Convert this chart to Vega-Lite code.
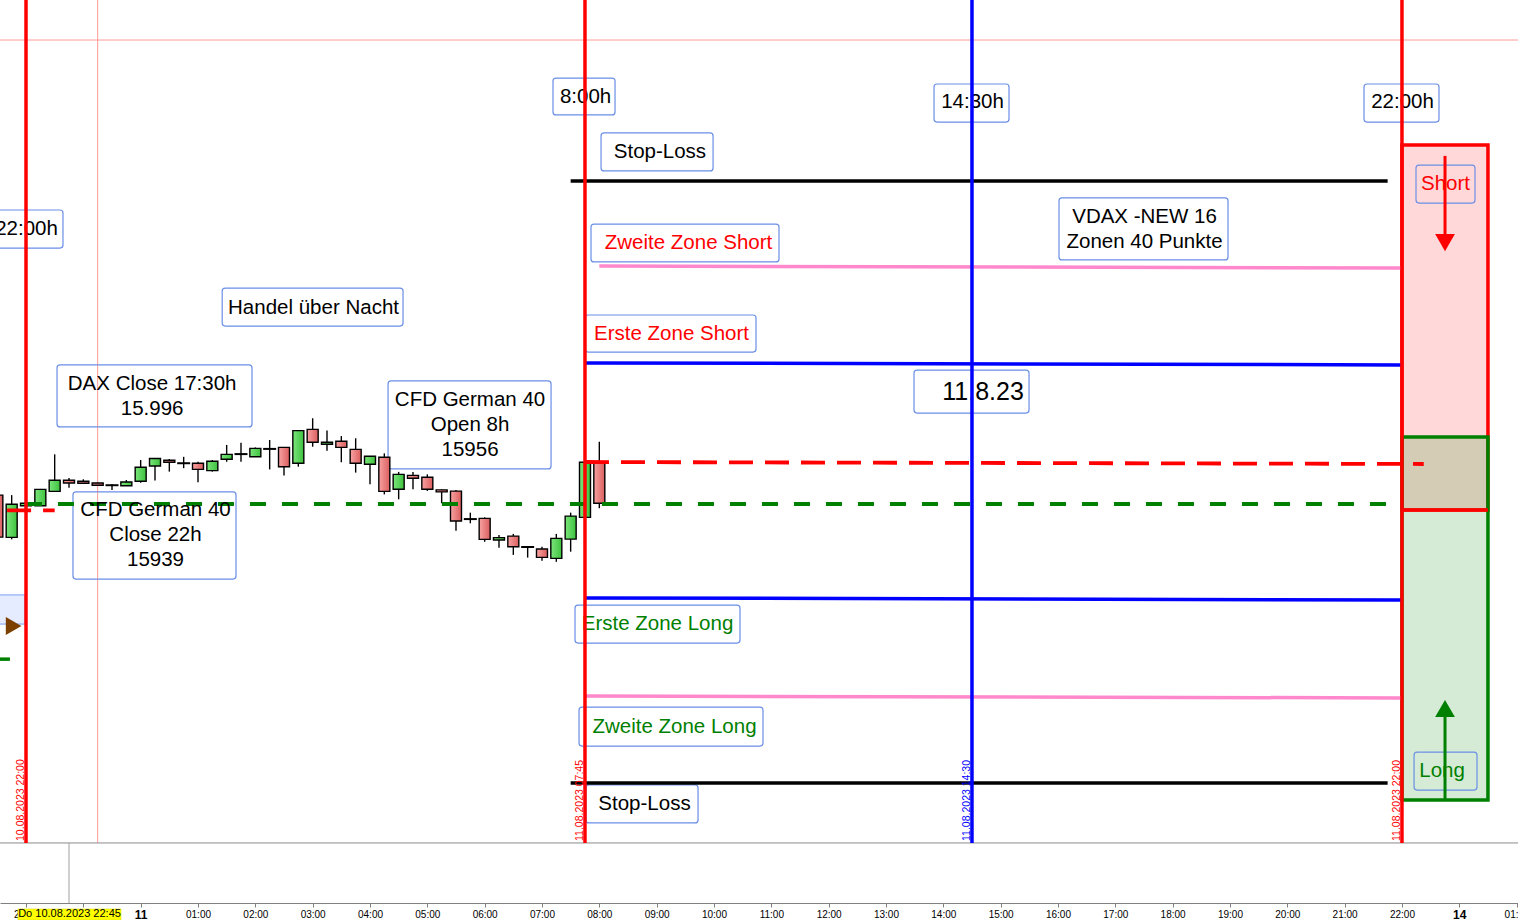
{
  "$schema": "https://vega.github.io/schema/vega-lite/v6.json",
  "width": 1518,
  "height": 903,
  "autosize": {"type": "none"},
  "padding": {"left": 0, "top": 0, "right": 0, "bottom": 17},
  "background": "#ffffff",
  "config": {
    "view": {"stroke": null},
    "font": "Liberation Sans",
    "text": {"font": "Liberation Sans"},
    "axisX": {"title": null, "grid": false, "labelFont": "Liberation Sans", "labelFontSize": 10, "labelColor": "#000000", "tickSize": 4, "tickColor": "#808080", "domainColor": "#808080", "labelPadding": 2}
  },
  "datasets": {
    "kerzen": [
      {"t": -2.5, "o": 15942.6, "h": 15943.5, "l": 15925.2, "c": 15925.6},
      {"t": -2.25, "o": 15925.5, "h": 15942.6, "l": 15924.7, "c": 15938.9},
      {"t": -2.0, "o": 15938.3, "h": 15939.4, "l": 15938.2, "c": 15939.3},
      {"t": -1.75, "o": 15938.3, "h": 15945.1, "l": 15938.2, "c": 15944.9},
      {"t": -1.5, "o": 15944.1, "h": 15959.1, "l": 15944.1, "c": 15948.6},
      {"t": -1.25, "o": 15948.6, "h": 15949.5, "l": 15945.6, "c": 15947.5},
      {"t": -1.0, "o": 15948.2, "h": 15949.0, "l": 15947.1, "c": 15947.4},
      {"t": -0.75, "o": 15947.5, "h": 15947.7, "l": 15946.3, "c": 15946.6},
      {"t": -0.5, "o": 15946.6, "h": 15947.1, "l": 15944.7, "c": 15946.6},
      {"t": -0.25, "o": 15946.4, "h": 15948.7, "l": 15946.3, "c": 15947.9},
      {"t": 0.0, "o": 15948.2, "h": 15956.8, "l": 15947.6, "c": 15953.9},
      {"t": 0.25, "o": 15954.4, "h": 15957.6, "l": 15948.5, "c": 15957.4},
      {"t": 0.5, "o": 15956.7, "h": 15957.2, "l": 15952.1, "c": 15955.9},
      {"t": 0.75, "o": 15955.5, "h": 15958.1, "l": 15953.5, "c": 15955.5},
      {"t": 1.0, "o": 15955.5, "h": 15956.1, "l": 15947.8, "c": 15953.0},
      {"t": 1.25, "o": 15952.5, "h": 15956.8, "l": 15952.1, "c": 15956.3},
      {"t": 1.5, "o": 15957.1, "h": 15962.9, "l": 15956.1, "c": 15959.1},
      {"t": 1.75, "o": 15959.2, "h": 15963.8, "l": 15956.1, "c": 15959.2},
      {"t": 2.0, "o": 15958.1, "h": 15961.9, "l": 15958.1, "c": 15961.5},
      {"t": 2.25, "o": 15961.3, "h": 15964.9, "l": 15953.0, "c": 15961.3},
      {"t": 2.5, "o": 15961.9, "h": 15962.1, "l": 15950.5, "c": 15954.1},
      {"t": 2.75, "o": 15955.5, "h": 15968.8, "l": 15954.1, "c": 15968.7},
      {"t": 3.0, "o": 15969.2, "h": 15973.7, "l": 15962.2, "c": 15964.0},
      {"t": 3.25, "o": 15963.2, "h": 15968.7, "l": 15960.6, "c": 15964.0},
      {"t": 3.5, "o": 15964.4, "h": 15966.5, "l": 15955.9, "c": 15961.9},
      {"t": 3.75, "o": 15961.1, "h": 15965.6, "l": 15951.7, "c": 15955.5},
      {"t": 4.0, "o": 15955.1, "h": 15958.4, "l": 15947.0, "c": 15958.3},
      {"t": 4.25, "o": 15957.9, "h": 15959.5, "l": 15942.9, "c": 15944.1},
      {"t": 4.5, "o": 15945.0, "h": 15952.0, "l": 15940.9, "c": 15951.0},
      {"t": 4.75, "o": 15950.6, "h": 15952.0, "l": 15945.0, "c": 15949.4},
      {"t": 5.0, "o": 15949.8, "h": 15951.0, "l": 15944.3, "c": 15945.0},
      {"t": 5.25, "o": 15944.7, "h": 15944.9, "l": 15939.3, "c": 15943.9},
      {"t": 5.5, "o": 15944.2, "h": 15944.7, "l": 15928.2, "c": 15932.1},
      {"t": 5.75, "o": 15932.9, "h": 15935.5, "l": 15931.2, "c": 15932.9},
      {"t": 6.0, "o": 15933.2, "h": 15933.6, "l": 15923.7, "c": 15924.7},
      {"t": 6.25, "o": 15924.4, "h": 15926.5, "l": 15921.3, "c": 15925.4},
      {"t": 6.5, "o": 15926.0, "h": 15926.9, "l": 15918.4, "c": 15921.7},
      {"t": 6.75, "o": 15921.6, "h": 15922.0, "l": 15917.3, "c": 15921.6},
      {"t": 7.0, "o": 15920.8, "h": 15921.7, "l": 15916.0, "c": 15917.4},
      {"t": 7.25, "o": 15917.0, "h": 15926.9, "l": 15915.6, "c": 15925.1},
      {"t": 7.5, "o": 15924.8, "h": 15935.5, "l": 15919.7, "c": 15934.1},
      {"t": 7.75, "o": 15933.6, "h": 15956.0, "l": 15933.5, "c": 15955.9},
      {"t": 8.0, "o": 15955.9, "h": 15964.2, "l": 15937.3, "c": 15939.3}
    ],
    "linien": [
      {"name": "Stop-Loss oben", "kat": "stop", "t": 7.5, "t2": 21.75, "p": 16069.7, "p2": 16069.7},
      {"name": "Zweite Zone Short", "kat": "zone2", "t": 8.0, "t2": 22.0, "p": 16035.3, "p2": 16034.5},
      {"name": "Erste Zone Short", "kat": "zone1", "t": 7.75, "t2": 22.0, "p": 15996.1, "p2": 15995.3},
      {"name": "Erste Zone Long", "kat": "zone1", "t": 7.75, "t2": 22.0, "p": 15901.0, "p2": 15900.1},
      {"name": "Zweite Zone Long", "kat": "zone2", "t": 7.75, "t2": 22.0, "p": 15861.3, "p2": 15860.5},
      {"name": "Stop-Loss unten", "kat": "stop", "t": 7.5, "t2": 21.75, "p": 15826.1, "p2": 15826.1},
      {"name": "Marke", "kat": "long", "t": -2.46, "t2": -2.28, "p": 15876.2, "p2": 15876.2}
    ],
    "gestrichelt": [
      {"name": "Open 8h", "kat": "short", "t": 7.75, "t2": 22.38, "p": 15956.0, "p2": 15955.2},
      {"name": "Close 22h", "kat": "long", "t": -2.0, "t2": 21.75, "p": 15939.0, "p2": 15939.0},
      {"name": "Open Vortag", "kat": "short", "t": -2.33, "t2": -1.5, "p": 15936.4, "p2": 15936.4}
    ],
    "zeiten": [
      {"t": -2.0, "kat": "eu", "label": "10.08.2023 22:00", "p": 16143.0, "p2": 15801.8},
      {"t": 7.75, "kat": "eu", "label": "11.08.2023 07:45", "p": 16143.0, "p2": 15801.8},
      {"t": 14.5, "kat": "us", "label": "11.08.2023 14:30", "p": 16143.0, "p2": 15801.8},
      {"t": 22.0, "kat": "eu", "label": "11.08.2023 22:00", "p": 16143.0, "p2": 15801.8}
    ],
    "bereiche": [
      {"name": "Short", "t": 22.0, "t2": 23.5, "p": 16084.3, "p2": 15936.6},
      {"name": "Long", "t": 22.0, "t2": 23.5, "p": 15966.1, "p2": 15819.2}
    ],
    "pfeile": [
      {"kat": "short", "t": 22.751, "p": 16079.9, "p2": 16044.8},
      {"kat": "long", "t": 22.751, "p": 15819.2, "p2": 15856.2}
    ],
    "notizrahmen": [
      {"t": 7.192, "t2": 8.274, "p": 16111.4, "p2": 16096.5},
      {"t": 13.838, "t2": 15.146, "p": 16109.0, "p2": 16093.6},
      {"t": 21.338, "t2": 22.646, "p": 16109.0, "p2": 16093.6},
      {"t": -2.663, "t2": -1.355, "p": 16058.0, "p2": 16042.6},
      {"t": 8.03, "t2": 9.984, "p": 16089.2, "p2": 16073.8},
      {"t": 7.855, "t2": 11.134, "p": 16052.3, "p2": 16037.0},
      {"t": 7.751, "t2": 10.733, "p": 16015.5, "p2": 16000.5},
      {"t": 16.018, "t2": 18.966, "p": 16062.9, "p2": 16037.8},
      {"t": 13.489, "t2": 15.495, "p": 15993.2, "p2": 15975.8},
      {"t": 1.422, "t2": 4.576, "p": 16026.4, "p2": 16011.0},
      {"t": -1.459, "t2": 1.942, "p": 15995.3, "p2": 15970.2},
      {"t": 4.315, "t2": 7.158, "p": 15988.8, "p2": 15953.2},
      {"t": -1.181, "t2": 1.663, "p": 15943.9, "p2": 15908.6},
      {"t": 7.576, "t2": 10.454, "p": 15898.1, "p2": 15882.7},
      {"t": 7.646, "t2": 10.855, "p": 15856.8, "p2": 15841.0},
      {"t": 7.768, "t2": 9.722, "p": 15825.3, "p2": 15809.9},
      {"t": 22.245, "t2": 23.274, "p": 16076.2, "p2": 16060.8},
      {"t": 22.211, "t2": 23.309, "p": 15838.6, "p2": 15823.2}
    ],
    "notiztext": [
      {"label": "8:00h", "kat": "neutral", "t": 7.76, "p": 16103.7},
      {"label": "14:30h", "kat": "neutral", "t": 14.51, "p": 16101.8},
      {"label": "22:00h", "kat": "neutral", "t": 22.01, "p": 16101.8},
      {"label": "22:00h", "kat": "neutral", "t": -1.991, "p": 16050.3},
      {"label": "Stop-Loss", "kat": "neutral", "t": 9.058, "p": 16081.5},
      {"label": "Zweite Zone Short", "kat": "short", "t": 9.556, "p": 16044.6},
      {"label": "Erste Zone Short", "kat": "short", "t": 9.259, "p": 16007.8},
      {"label": "VDAX -NEW 16\nZonen 40 Punkte", "kat": "neutral", "t": 17.51, "p": 16055.2},
      {"label": "11.8.23", "kat": "neutral", "t": 14.693, "p": 15984.5},
      {"label": "Handel über Nacht", "kat": "neutral", "t": 3.015, "p": 16018.3},
      {"label": "DAX Close 17:30h\n15.996", "kat": "neutral", "t": 0.2, "p": 15987.6},
      {"label": "CFD German 40\nOpen 8h\n15956", "kat": "neutral", "t": 5.745, "p": 15981.1},
      {"label": "CFD German 40\nClose 22h\n15939", "kat": "neutral", "t": 0.259, "p": 15936.6},
      {"label": "Erste Zone Long", "kat": "long", "t": 9.015, "p": 15890.4},
      {"label": "Zweite Zone Long", "kat": "long", "t": 9.311, "p": 15848.7},
      {"label": "Stop-Loss", "kat": "neutral", "t": 8.788, "p": 15817.6},
      {"label": "Short", "kat": "short", "t": 22.76, "p": 16068.5},
      {"label": "Long", "kat": "long", "t": 22.699, "p": 15830.9}
    ]
  },
  "encoding": {
    "x": {"field": "t", "type": "quantitative",
      "scale": {"domain": [-2.4536, 24.024], "nice": false, "zero": false, "padding": 0},
      "axis": {
        "values": [-2, -1, 0, 1, 2, 3, 4, 5, 6, 7, 8, 9, 10, 11, 12, 13, 14, 15, 16, 17, 18, 19, 20, 21, 22, 23, 24],
        "labelExpr": "datum.value == 0 ? '11' : datum.value == 23 ? '14' : datum.value < 0 ? (datum.value + 24) + ':00' : datum.value > 23 ? '0' + (datum.value - 23) + ':00' : datum.value < 10 ? '0' + datum.value + ':00' : datum.value + ':00'",
        "labelFontWeight": {"condition": {"test": "datum.value == 0 || datum.value == 23", "value": "bold"}, "value": "normal"},
        "labelFontSize": {"condition": {"test": "datum.value == 0 || datum.value == 23", "value": 12}, "value": 10},
        "labelOverlap": false, "labelFlush": false
      }},
    "y": {"field": "p", "type": "quantitative",
      "scale": {"domain": [15777.5, 16143.0], "nice": false, "zero": false, "padding": 0},
      "axis": null}
  },
  "layer": [
    {"data": {"name": "bereiche"}, "transform": [{"filter": "datum.name == 'Short'"}],
     "mark": {"type": "rect", "fill": "#ffd9d9", "stroke": "#ff0000", "strokeWidth": 3.5},
     "encoding": {"x2": {"field": "t2"}, "y2": {"field": "p2"}}},
    {"data": {"name": "bereiche"}, "transform": [{"filter": "datum.name == 'Long'"}],
     "mark": {"type": "rect", "fill": "#2d9b2d", "fillOpacity": 0.2, "stroke": "#008000", "strokeOpacity": 1, "strokeWidth": 3.5},
     "encoding": {"x2": {"field": "t2"}, "y2": {"field": "p2"}}},
    {"data": {"name": "bereiche"}, "transform": [{"filter": "datum.name == 'Short'"}],
     "mark": {"type": "rule", "color": "#ff0000", "strokeWidth": 3.5},
     "encoding": {"x2": {"field": "t2"}, "y": {"field": "p2", "type": "quantitative", "axis": null}}},
    {"data": {"values": [{"t": -2.6, "t2": -2.017, "p": 15902.2, "p2": 15890.4}]},
     "mark": {"type": "rect", "fill": "#e6ecff", "stroke": "#7b9ef0", "strokeWidth": 1},
     "encoding": {"x2": {"field": "t2"}, "y2": {"field": "p2"}}},
    {"data": {"values": [{"t": -2.216, "p": 15889.6}]},
     "mark": {"type": "point", "shape": "triangle-right", "size": 324, "filled": true, "color": "#7b3f00", "opacity": 1},
     "encoding": {}},
    {"data": {"values": [{"name": "Fadenkreuz", "t": -2.4536, "t2": 24.024, "p": 16126.8}]},
     "mark": {"type": "rule", "color": "#ff9999", "strokeWidth": 1},
     "encoding": {"x2": {"field": "t2"}}},
    {"data": {"values": [{"name": "Fadenkreuz", "t": -0.75, "p": 16143.0, "p2": 15801.8}]},
     "mark": {"type": "rule", "color": "#ff9999", "strokeWidth": 1},
     "encoding": {"y2": {"field": "p2"}}},
    {"data": {"values": [{"name": "Trenner", "t": -2.4536, "t2": 24.024, "p": 15801.8}]},
     "mark": {"type": "rule", "color": "#8c8c8c", "strokeWidth": 1},
     "encoding": {"x2": {"field": "t2"}}},
    {"data": {"values": [{"name": "Cursor", "t": -1.25, "p": 15801.8, "p2": 15777.5}]},
     "mark": {"type": "rule", "color": "#a0a0a0", "strokeWidth": 1},
     "encoding": {"y2": {"field": "p2"}}},
    {"data": {"name": "notizrahmen"},
     "mark": {"type": "rect", "fill": "#ffffff", "fillOpacity": 0, "stroke": "#6a8fe6", "strokeWidth": 1.2, "cornerRadius": 3},
     "encoding": {"x2": {"field": "t2"}, "y2": {"field": "p2"}}},
    {"data": {"name": "kerzen"},
     "mark": {"type": "rule", "color": "#000000", "strokeWidth": 1.4},
     "encoding": {"y": {"field": "l", "type": "quantitative", "axis": null}, "y2": {"field": "h"}}},
    {"data": {"name": "kerzen"}, "transform": [{"filter": "datum.c > datum.o"}],
     "mark": {"type": "bar", "size": 11, "stroke": "#000000", "strokeWidth": 1.4,
              "fill": {"x1": 0, "y1": 0, "x2": 1, "y2": 0, "gradient": "linear", "stops": [{"offset": 0, "color": "#7be57b"}, {"offset": 1, "color": "#3ec23e"}]}},
     "encoding": {"y": {"field": "o", "type": "quantitative", "axis": null}, "y2": {"field": "c"}}},
    {"data": {"name": "kerzen"}, "transform": [{"filter": "datum.c < datum.o"}],
     "mark": {"type": "bar", "size": 11, "stroke": "#000000", "strokeWidth": 1.4,
              "fill": {"x1": 0, "y1": 0, "x2": 1, "y2": 0, "gradient": "linear", "stops": [{"offset": 0, "color": "#f7a3a3"}, {"offset": 1, "color": "#dc5e5e"}]}},
     "encoding": {"y": {"field": "o", "type": "quantitative", "axis": null}, "y2": {"field": "c"}}},
    {"data": {"name": "kerzen"}, "transform": [{"filter": "datum.c == datum.o"}],
     "mark": {"type": "tick", "orient": "horizontal", "size": 13, "thickness": 2, "color": "#000000", "opacity": 1},
     "encoding": {"y": {"field": "o", "type": "quantitative", "axis": null}}},
    {"data": {"name": "linien"},
     "mark": {"type": "rule", "strokeWidth": 3.5},
     "encoding": {"x2": {"field": "t2"}, "y2": {"field": "p2"},
       "color": {"field": "kat", "type": "nominal", "legend": null, "scale": {"domain": ["neutral", "stop", "short", "long", "zone1", "zone2", "eu", "us"], "range": ["#000000", "#000000", "#ff0000", "#008000", "#0000ff", "#ff88cc", "#ff0000", "#0000ff"]}}}},
    {"data": {"name": "gestrichelt"},
     "mark": {"type": "rule", "strokeWidth": 3.8},
     "encoding": {"x2": {"field": "t2"}, "y2": {"field": "p2"},
       "color": {"field": "kat", "type": "nominal", "legend": null, "scale": {"domain": ["neutral", "stop", "short", "long", "zone1", "zone2", "eu", "us"], "range": ["#000000", "#000000", "#ff0000", "#008000", "#0000ff", "#ff88cc", "#ff0000", "#0000ff"]}},
       "strokeDash": {"field": "kat", "type": "nominal", "legend": null, "scale": {"domain": ["short", "long"], "range": [[24, 12], [16, 16]]}}}},
    {"data": {"name": "notiztext"}, "transform": [{"filter": "datum.label != '11.8.23'"}],
     "mark": {"type": "text", "fontSize": 20.5, "lineBreak": "\n", "lineHeight": 25, "align": "center", "baseline": "middle"},
     "encoding": {"text": {"field": "label"},
       "color": {"field": "kat", "type": "nominal", "legend": null, "scale": {"domain": ["neutral", "stop", "short", "long", "zone1", "zone2", "eu", "us"], "range": ["#000000", "#000000", "#ff0000", "#008000", "#0000ff", "#ff88cc", "#ff0000", "#0000ff"]}}}},
    {"data": {"name": "notiztext"}, "transform": [{"filter": "datum.label == '11.8.23'"}],
     "mark": {"type": "text", "fontSize": 25, "align": "center", "baseline": "middle", "color": "#000000"},
     "encoding": {"text": {"field": "label"}}},
    {"data": {"name": "zeiten"},
     "mark": {"type": "rule", "strokeWidth": 3.5},
     "encoding": {"y2": {"field": "p2"},
       "color": {"field": "kat", "type": "nominal", "legend": null, "scale": {"domain": ["neutral", "stop", "short", "long", "zone1", "zone2", "eu", "us"], "range": ["#000000", "#000000", "#ff0000", "#008000", "#0000ff", "#ff88cc", "#ff0000", "#0000ff"]}}}},
    {"data": {"name": "zeiten"},
     "mark": {"type": "text", "angle": 270, "align": "left", "baseline": "bottom", "fontSize": 10.5, "dx": 2},
     "encoding": {
       "y": {"field": "p2", "type": "quantitative", "axis": null},
       "text": {"field": "label"},
       "color": {"field": "kat", "type": "nominal", "legend": null, "scale": {"domain": ["neutral", "stop", "short", "long", "zone1", "zone2", "eu", "us"], "range": ["#000000", "#000000", "#ff0000", "#008000", "#0000ff", "#ff88cc", "#ff0000", "#0000ff"]}}}},
    {"data": {"name": "pfeile"},
     "mark": {"type": "rule", "strokeWidth": 3},
     "encoding": {"y2": {"field": "p2"},
       "color": {"field": "kat", "type": "nominal", "legend": null, "scale": {"domain": ["neutral", "stop", "short", "long", "zone1", "zone2", "eu", "us"], "range": ["#000000", "#000000", "#ff0000", "#008000", "#0000ff", "#ff88cc", "#ff0000", "#0000ff"]}}}},
    {"data": {"name": "pfeile"},
     "mark": {"type": "point", "filled": true, "opacity": 1, "size": 390},
     "encoding": {"y": {"field": "p2", "type": "quantitative", "axis": null},
       "shape": {"field": "kat", "type": "nominal", "legend": null, "scale": {"domain": ["short", "long"], "range": ["triangle-down", "triangle-up"]}},
       "color": {"field": "kat", "type": "nominal", "legend": null, "scale": {"domain": ["neutral", "stop", "short", "long", "zone1", "zone2", "eu", "us"], "range": ["#000000", "#000000", "#ff0000", "#008000", "#0000ff", "#ff88cc", "#ff0000", "#0000ff"]}}}},
    {"data": {"values": [{"t": -2.14, "t2": -0.343, "p": 15775.1, "p2": 15770.6}]},
     "mark": {"type": "rect", "fill": "#ffff00", "stroke": "#d8d800", "strokeWidth": 0.5},
     "encoding": {"x2": {"field": "t2"}, "y2": {"field": "p2"}}},
    {"data": {"values": [{"t": -1.241, "p": 15773.0, "label": "Do 10.08.2023 22:45"}]},
     "mark": {"type": "text", "fontSize": 11, "align": "center", "baseline": "middle", "color": "#000000"},
     "encoding": {"text": {"field": "label"}}}
  ]
}
